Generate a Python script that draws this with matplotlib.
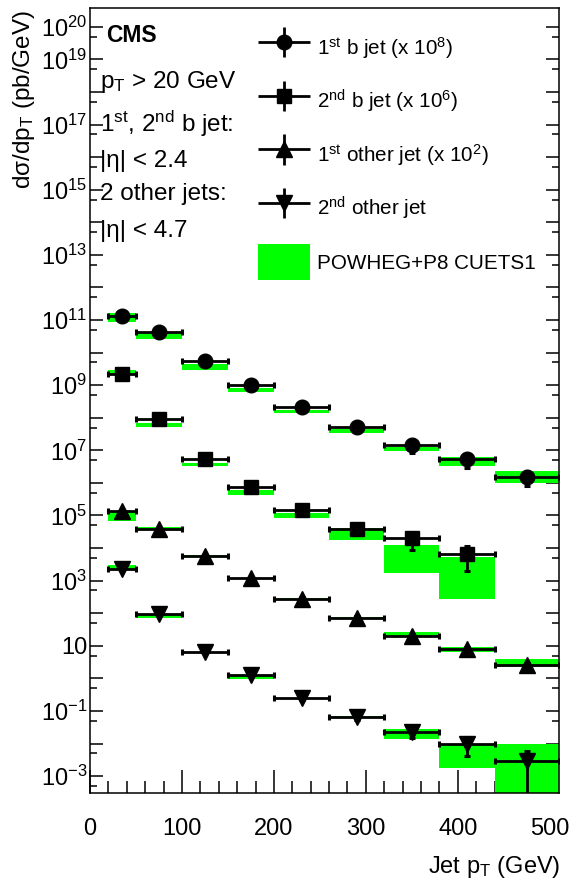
import numpy as np
import matplotlib
matplotlib.use('Agg')
from matplotlib import pyplot as plt
from matplotlib.ticker import FixedLocator, FuncFormatter, MultipleLocator
from matplotlib.container import ErrorbarContainer
from matplotlib.legend_handler import HandlerErrorbar
from matplotlib.patches import Patch

plt.rcParams['font.family'] = ['Liberation Sans', 'DejaVu Sans']
plt.rcParams['mathtext.fontset'] = 'custom'
plt.rcParams['mathtext.rm'] = 'Liberation Sans'
plt.rcParams['mathtext.it'] = 'Liberation Sans:italic'
plt.rcParams['mathtext.bf'] = 'Liberation Sans:bold'

# bin edges (GeV)
edges = np.array([20, 50, 100, 150, 200, 260, 320, 380, 440, 510])

# 1st b jet (x 1e8)
b1_val = [1.35e11, 4.3e10, 5.5e9, 1.0e9, 2.2e8, 5.1e7, 1.5e7, 5.4e6, 1.55e6]
b1_err = [1.0e10, 3.5e9, 4.5e8, 8e7, 2e7, 6e6, 6.8e6, 2.45e6, 7.6e5]
b1_mc_lo = [9.0e10, 2.6e10, 2.9e9, 6.3e8, 1.4e8, 3.5e7, 9.8e6, 3.4e6, 9.8e5]
b1_mc_hi = [1.6e11, 3.9e10, 4.5e9, 8.3e8, 1.75e8, 4.4e7, 1.3e7, 6.3e6, 2.3e6]

# 2nd b jet (x 1e6)
b2_val = [2.2e9, 9.3e7, 5.6e6, 7.6e5, 1.47e5, 3.8e4, 2.0e4, 6.6e3]
b2_err = [2.0e8, 9e6, 6e5, 9e4, 2.2e4, 9e3, 1.13e4, 4.6e3]
b2_mc_lo = [2.05e9, 5.2e7, 3.2e6, 4.3e5, 8.3e4, 1.8e4, 1.7e3, 270]
b2_mc_hi = [2.9e9, 6.8e7, 4.0e6, 6.0e5, 1.17e5, 4.1e4, 1.23e4, 5.4e3]

# 1st other jet (x 1e2)
o1_val = [1.4e5, 3.9e4, 5.8e3, 1.2e3, 2.8e2, 72, 20, 8.0, 2.5]
o1_err = [1.2e4, 3e3, 4e2, 1e2, 25, 8, 3, 1.2, 0.4]
o1_mc_lo = [6.9e4, 3.55e4, 5.2e3, 1.1e3, 2.6e2, 69, 20, 6.6, 2.2]
o1_mc_hi = [1.29e5, 4.4e4, 6.0e3, 1.23e3, 2.9e2, 76, 27, 9.3, 3.9]

# 2nd other jet
o2_val = [2.2e3, 93, 6.6, 1.3, 0.25, 0.066, 0.023, 0.010, 0.0030]
o2_err = [1.5e2, 7, 0.5, 0.12, 0.03, 0.012, 0.0085, 0.006, 0.00299]
o2_mc_lo = [2.1e3, 69, 6.0, 0.95, 0.23, 0.062, 0.0138, 0.00178, 1e-5]
o2_mc_hi = [3.0e3, 87, 6.6, 1.17, 0.25, 0.068, 0.027, 0.0100, 0.0100]

labels = [r'1$^{\mathrm{st}}$ b jet (x 10$^{8}$)',
          r'2$^{\mathrm{nd}}$ b jet (x 10$^{6}$)',
          r'1$^{\mathrm{st}}$ other jet (x 10$^{2}$)',
          r'2$^{\mathrm{nd}}$ other jet',
          'POWHEG+P8 CUETS1']

GREEN = '#00ff00'
W, H = 574, 884

fig = plt.figure(figsize=(W / 100, H / 100), dpi=100)
ax = fig.add_axes([90 / W, 1 - 792.7 / H, 469 / W, 784.7 / H])
ax.set_axisbelow(True)

centers = 0.5 * (edges[1:] + edges[:-1])
halfw = 0.5 * np.diff(edges)

series = [
    (b1_val, b1_err, b1_mc_lo, b1_mc_hi, 'o', 10.5),
    (b2_val, b2_err, b2_mc_lo, b2_mc_hi, 's', 10.5),
    (o1_val, o1_err, o1_mc_lo, o1_mc_hi, '^', 11),
    (o2_val, o2_err, o2_mc_lo, o2_mc_hi, 'v', 11),
]

proxies = []
for val, err, lo, hi, mk, ms in series:
    n = len(val)
    lo = np.array(lo)
    hi = np.array(hi)
    ax.bar(edges[:n], hi - lo, bottom=lo, width=np.diff(edges)[:n],
           align='edge', color=GREEN, linewidth=0, zorder=1)
    ax.errorbar(centers[:n], val, xerr=halfw[:n], yerr=err, fmt=mk,
                color='k', ms=ms, elinewidth=2.0, capsize=2.2, capthick=2.2,
                zorder=3)
    p = ax.errorbar([], [], xerr=[], yerr=[], fmt=mk, color='k', ms=ms,
                    elinewidth=2.0, capsize=0)
    proxies.append(p)

ax.set_yscale('log')
ax.set_xlim(0, 510)
ax.set_ylim(10 ** -3.51, 10 ** 20.58)

# y ticks: every decade, labels on odd ones (and 10^20)
ax.yaxis.set_major_locator(FixedLocator([10.0 ** k for k in range(-3, 21)]))
ax.yaxis.set_minor_locator(FixedLocator([5 * 10.0 ** k for k in range(-4, 21)]))


def ylab(v, pos):
    k = int(round(np.log10(v)))
    if k % 2 == 0 and k != 20:
        return ''
    if k == 1:
        return '10'
    return r'$10^{%d}$' % k


ax.yaxis.set_major_formatter(FuncFormatter(ylab))
ax.yaxis.set_minor_formatter(FuncFormatter(lambda v, p: ''))
ax.xaxis.set_major_locator(MultipleLocator(100))
ax.xaxis.set_minor_locator(MultipleLocator(20))

ax.tick_params(axis='y', which='both', direction='in', right=True, left=True,
               labelsize=17, pad=2, width=1.1)
ax.tick_params(axis='y', which='major', length=9.4)
ax.tick_params(axis='y', which='minor', length=5)
ax.tick_params(axis='x', which='both', direction='in', top=False,
               labelsize=17, pad=18, width=1.1)
ax.tick_params(axis='x', which='major', length=16.5)
ax.tick_params(axis='x', which='minor', length=8.6)
for s in ax.spines.values():
    s.set_linewidth(1.1)

ax.set_ylabel(r'd$\mathrm{\sigma}$/dp$_{\mathrm{T}}$ (pb/GeV)', fontsize=17.5,
              loc='top')
ax.yaxis.set_label_coords(-0.113, 0.9975)
ax.set_xlabel(r'Jet p$_{\mathrm{T}}$ (GeV)', fontsize=17, loc='right')
ax.xaxis.set_label_coords(1.002, -0.078)

# CMS label and selection text
fig.text(106 / W, 1 - 42 / H, 'CMS', fontsize=16.5, fontweight='bold')
txt = [(r'p$_{\mathrm{T}}$ > 20 GeV', 88),
       (r'1$^{\mathrm{st}}$, 2$^{\mathrm{nd}}$ b jet:', 132),
       ('|η| < 2.4', 167),
       ('2 other jets:', 200),
       ('|η| < 4.7', 237)]
for t, yb in txt:
    fig.text(100 / W, 1 - yb / H, t, fontsize=17.5, va='baseline')

handles = proxies + [Patch(facecolor=GREEN, edgecolor='none')]
fs = 14.9
fs_px = fs * 100 / 72
leg = fig.legend(handles, labels, loc='upper left',
                 bbox_to_anchor=(258 / W, 1 - 30 / H),
                 frameon=False, fontsize=fs, borderpad=0, borderaxespad=0,
                 handlelength=52 / fs_px, handleheight=2.3,
                 labelspacing=0.85, handletextpad=0.35,
                 handler_map={ErrorbarContainer:
                              HandlerErrorbar(xerr_size=1.27, yerr_size=0.73)})

fig.savefig('out.png', dpi=100)
